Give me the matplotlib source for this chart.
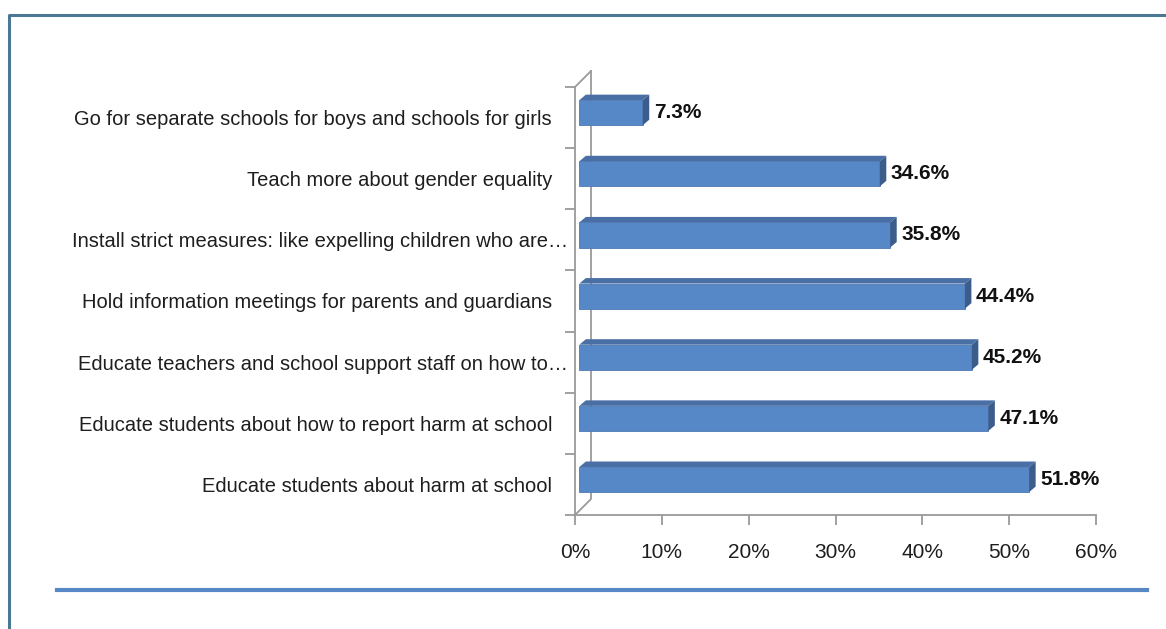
import matplotlib
matplotlib.use("Agg")
import matplotlib.pyplot as plt
import matplotlib.transforms as mtransforms
from matplotlib.patches import Polygon
from matplotlib import font_manager
import numpy as np

# categories as shown, top to bottom
CATEGORIES = [
    "Go for separate schools for boys and schools for girls",
    "Teach more about gender equality",
    "Install strict measures: like expelling children who are\u2026",
    "Hold information meetings for parents and guardians",
    "Educate teachers and school support staff on how to\u2026",
    "Educate students about how to report harm at school",
    "Educate students about harm at school",
]
VALUES = [7.3, 34.6, 35.8, 44.4, 45.2, 47.1, 51.8]
X_TICKS = [0, 10, 20, 30, 40, 50, 60]
X_TICK_LABELS = ["0%", "10%", "20%", "30%", "40%", "50%", "60%"]

names = sorted({f.name for f in font_manager.fontManager.ttflist})
FAMILY = "Liberation Sans Narrow" if "Liberation Sans Narrow" in names else "Liberation Sans"
plt.rcParams["font.family"] = [FAMILY, "DejaVu Sans"]

FACE = "#5687c7"
TOP = "#4a6fa5"
SIDE = "#3c5d8c"
GRID = "#9a9a9a"
TXT = "#1e1e1e"

W, H = 1166, 629
fig = plt.figure(figsize=(W / 100, H / 100), dpi=100)

# frame decorations in pixel space
deco = fig.add_axes([0, 0, 1, 1])
deco.set_xlim(0, W)
deco.set_ylim(H, 0)
deco.axis("off")
deco.plot([9, 9, W], [H, 15, 15], color="#4a7894", lw=2.2)
deco.plot([57, 1147], [590, 590], color="#5787c4", lw=3)

ax_l, ax_r, ax_t, ax_b = 575, 1096, 87, 515
ax = fig.add_axes([ax_l / W, 1 - ax_b / H, (ax_r - ax_l) / W, (ax_b - ax_t) / H])
ax.patch.set_alpha(0)

n = len(CATEGORIES)
pos = np.arange(n)[::-1]  # top category at the top
ax.set_xlim(0, 60)
ax.set_ylim(-0.5, n - 0.5)

# 3D depth in data units
dx = 16 / ((ax_r - ax_l) / 60)
dy = 16 / ((ax_b - ax_t) / n)
# back wall outline
ax.plot([0, dx, dx], [-0.5, -0.5 + dy, n - 0.5 + dy], color=GRID, lw=1.3, clip_on=False)
ax.plot([0, dx], [n - 0.5, n - 0.5 + dy], color=GRID, lw=1.3, clip_on=False)

bh = 0.41
shift = 0.08
bdx = 0.75
bdy = 0.09
for y, v in zip(pos, VALUES):
    yc = y + shift
    y0, y1 = yc - bh / 2, yc + bh / 2
    ax.barh(yc, v, height=bh, left=0.5, color=FACE, edgecolor="#4b79b5", lw=0.6, zorder=3)
    ax.add_patch(Polygon([(0.5, y1), (v + 0.5, y1), (v + 0.5 + bdx, y1 + bdy), (0.5 + bdx, y1 + bdy)],
                         closed=True, facecolor=TOP, edgecolor="none", zorder=3, clip_on=False))
    ax.add_patch(Polygon([(v + 0.5, y0), (v + 0.5, y1), (v + 0.5 + bdx, y1 + bdy), (v + 0.5 + bdx, y0 + bdy)],
                         closed=True, facecolor=SIDE, edgecolor="none", zorder=3, clip_on=False))
    ax.annotate("{:.1f}%".format(v), xy=(v, yc), xytext=(11, 0), textcoords="offset points",
                ha="left", va="center", fontsize=15, fontweight="bold", color="#111111")

for s in ["top", "right"]:
    ax.spines[s].set_visible(False)
for s in ["left", "bottom"]:
    ax.spines[s].set_color(GRID)
    ax.spines[s].set_linewidth(1.3)

ax.set_xticks(X_TICKS)
ax.set_xticklabels(X_TICK_LABELS, fontsize=15, color=TXT)
ax.tick_params(axis="x", length=7, width=1.3, color=GRID, pad=13)

ax.set_yticks(np.arange(n + 1) - 0.5)
ax.set_yticklabels([])
ax.set_yticks(pos, minor=True)
ax.set_yticklabels(CATEGORIES, minor=True, fontsize=14.5, color=TXT)
ax.tick_params(axis="y", which="major", length=7, width=1.3, color=GRID)
ax.tick_params(axis="y", which="minor", length=0, pad=16.5)

# truncated labels run a bit further right, as in the source chart
nudge = mtransforms.ScaledTranslation(16 / 100, 0, fig.dpi_scale_trans)
for lab in ax.get_yticklabels(minor=True):
    if lab.get_text().endswith("\u2026"):
        lab.set_transform(lab.get_transform() + nudge)

fig.savefig("out.png", dpi=100)
